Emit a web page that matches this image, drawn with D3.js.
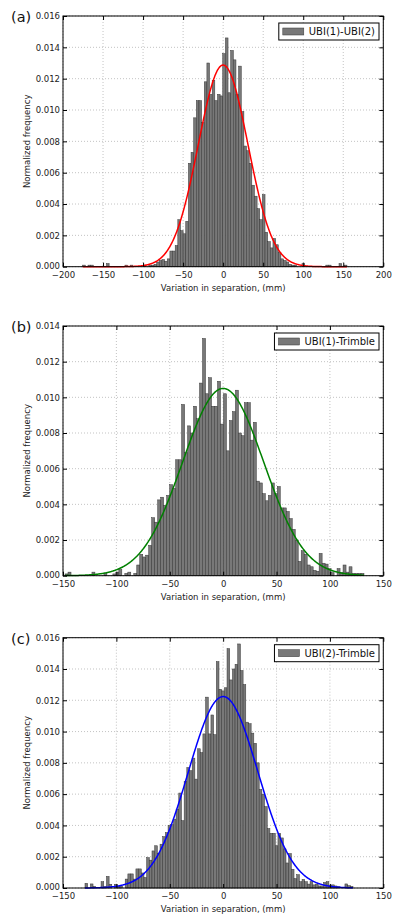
<!DOCTYPE html>
<html>
<head>
<meta charset="utf-8">
<script src="https://cdn.jsdelivr.net/npm/d3@7"></script>
<style>
  body { margin: 0; background: #fff; }
  svg { display: block; font-family: "DejaVu Sans", sans-serif; }
</style>
</head>
<body>
<div id="chart"></div>
<script>
// Histogram heights, in units of 1e-3 (normalized frequency).
// 100 bins per panel, left to right.
const freqA = [
  0.1, 0, 0.1, 0.1, 0, 0, 0, 0, 0, 0.2,
  0, 0, 0, 0, 0, 0, 0.1, 0, 0.1, 0,
  0, 0, 0, 0.1, 0, 0.1, 0.1, 0.15, 0.3, 0.4,
  0.45, 0.35, 0.5, 1.0, 1.0, 1.35, 3.0, 2.3, 2.1, 2.9,
  6.6, 7.3, 9.5, 10.6, 10.6, 9.2, 11.8, 13.0, 11.0, 11.9,
  10.6, 11.0, 10.9, 13.6, 14.6, 11.1, 13.8, 13.2, 11.0, 12.8,
  9.9, 7.7, 7.4, 6.6, 5.2, 4.5, 3.7, 3.0, 4.6, 2.2,
  1.6, 1.2, 1.8, 1.4, 0.9, 0.5, 0.4, 0.3, 0.15, 0.1,
  0.1, 0, 0, 0.2, 0, 0, 0, 0, 0, 0,
  0, 0, 0.1, 0.1, 0, 0, 0, 0.2, 0, 0.1
];
const freqB = [
  0.1, 0.2, 0, 0, 0, 0, 0, 0, 0, 0.2,
  0, 0, 0, 0.13, 0, 0, 0.1, 0.2, 0.35, 0,
  0.13, 0.2, 0, 0.13, 0.6, 1.2, 1.05, 1.15, 1.7, 3.25,
  3.0, 4.25, 4.4, 3.95, 4.5, 5.1, 4.9, 6.5, 6.5, 9.6,
  6.9, 8.4, 8.0, 9.5, 8.8, 10.8, 13.3, 10.2, 11.1, 9.5,
  9.5, 10.9, 8.5, 10.2, 7.0, 8.7, 9.2, 10.4, 8.0, 7.85,
  9.7, 9.7, 7.6, 8.6, 5.3, 5.2, 4.6, 4.2, 4.5, 5.2,
  4.6, 5.0, 3.8, 3.8, 3.6, 3.2, 2.6, 2.0, 0.8, 1.4,
  1.2, 0.6, 0.5, 0.3, 0.25, 1.25, 0.7, 0.65, 0.4, 0.17,
  0, 0.4, 0.17, 0.6, 0.2, 0.5, 0.13, 0.13, 0.13, 0.13
];
const freqC = [
  0.3, 0, 0.26, 0.1, 0, 0, 0.4, 0.1, 0.74, 0.24,
  0, 0.24, 0.1, 0.13, 0, 0.57, 0.9, 0.9, 0.57, 1.22,
  1.22, 0.96, 0.67, 1.94, 1.78, 2.37, 2.7, 2.2, 2.8, 3.28,
  3.54, 4.0, 4.05, 4.4, 5.04, 6.07, 4.3, 6.8, 7.7, 7.5,
  8.3, 6.96, 8.9, 8.65, 9.85, 12.2, 9.85, 11.06, 9.8, 14.47,
  12.7, 12.6, 12.8, 15.3, 13.3, 14.0, 14.3, 15.6, 13.9, 13.0,
  10.6, 10.5, 9.9, 9.25, 8.0, 6.3, 6.0, 5.2, 3.8, 3.5,
  3.5, 2.7, 3.5, 3.2, 2.5, 1.6, 2.2, 1.2, 0.6, 0.85,
  0.4, 0.55, 0.4, 0.25, 0.4, 0.2, 0.25, 0.13, 0.13, 0.35,
  0.4, 0.15, 0.2, 0.13, 0.1, 0, 0, 0.26, 0.15, 0.1
];

// first bin edge and bin width of each histogram (mm)
const binStart = [-175.4, -148.1, -129.4];
const binWidth = [3.3, 2.8, 2.51];

// normal fit drawn over each histogram (mm)
const fitMean = [0, 0, 0];
const fitSigma = [31, 38, 32.6];

const panelLabels = ["(a)", "(b)", "(c)"];
const seriesNames = ["UBI(1)-UBI(2)", "UBI(1)-Trimble", "UBI(2)-Trimble"];

const xTicksA = [-200, -150, -100, -50, 0, 50, 100, 150, 200];
const xTicksBC = [-150, -100, -50, 0, 50, 100, 150];
const yTicksA = [0, 0.002, 0.004, 0.006, 0.008, 0.010, 0.012, 0.014, 0.016];
const yTicksB = [0, 0.002, 0.004, 0.006, 0.008, 0.010, 0.012, 0.014];
const yTicksC = [0, 0.002, 0.004, 0.006, 0.008, 0.010, 0.012, 0.014, 0.016];

const xLabel = "Variation in separation, (mm)";
const yLabel = "Normalized frequency";

// layout
const width = 393, height = 915;
const plotLeft = 63, plotRight = 383.3;
const panels = [
  { freq: freqA, xTicks: xTicksA, yTicks: yTicksA, top: 16, bottom: 266.7, color: "#ff0000" },
  { freq: freqB, xTicks: xTicksBC, yTicks: yTicksB, top: 326, bottom: 575.7, color: "#008000" },
  { freq: freqC, xTicks: xTicksBC, yTicks: yTicksC, top: 637.7, bottom: 888, color: "#0000ff" }
];

let svg = d3.select("#chart").append("svg")
  .attr("width", width)
  .attr("height", height);

function normalPdf(x, mu, sigma) {
  return Math.exp(-0.5 * ((x - mu) / sigma) ** 2) / (sigma * Math.sqrt(2 * Math.PI));
}

function drawPanel(p, k) {
  let g = svg.append("g");
  let xt = p.xTicks, yt = p.yTicks;

  let x = d3.scaleLinear().domain([xt[0], xt[xt.length - 1]]).range([plotLeft, plotRight]);
  let y = d3.scaleLinear().domain([0, yt[yt.length - 1]]).range([p.bottom, p.top]);

  // dotted grid
  g.append("g").selectAll("line.gx").data(xt).join("line")
    .attr("x1", d => x(d)).attr("x2", d => x(d))
    .attr("y1", p.top).attr("y2", p.bottom)
    .attr("stroke", "#9a9a9a").attr("stroke-width", 0.6).attr("stroke-dasharray", "1,2");
  g.append("g").selectAll("line.gy").data(yt).join("line")
    .attr("x1", plotLeft).attr("x2", plotRight)
    .attr("y1", d => y(d)).attr("y2", d => y(d))
    .attr("stroke", "#9a9a9a").attr("stroke-width", 0.6).attr("stroke-dasharray", "1,2");

  // histogram bars
  let bins = p.freq.map(function (v, i) {
    return { x0: binStart[k] + i * binWidth[k], x1: binStart[k] + (i + 1) * binWidth[k], v: v / 1000 };
  });
  g.append("g").selectAll("rect").data(bins.filter(d => d.v > 0)).join("rect")
    .attr("x", d => x(d.x0))
    .attr("width", d => x(d.x1) - x(d.x0))
    .attr("y", d => y(d.v))
    .attr("height", d => y(0) - y(d.v))
    .attr("fill", "#787878")
    .attr("stroke", "#363636")
    .attr("stroke-width", 0.5);

  // fitted normal curve over the range of the bins
  let lo = binStart[k], hi = binStart[k] + p.freq.length * binWidth[k];
  let pts = d3.range(lo, hi + 0.25, 0.5).map(function (t) {
    return [t, normalPdf(t, fitMean[k], fitSigma[k])];
  });
  g.append("path")
    .datum(pts)
    .attr("fill", "none")
    .attr("stroke", p.color)
    .attr("stroke-width", 1.5)
    .attr("d", d3.line().x(d => x(d[0])).y(d => y(d[1])));

  // frame
  g.append("rect")
    .attr("x", plotLeft).attr("y", p.top)
    .attr("width", plotRight - plotLeft).attr("height", p.bottom - p.top)
    .attr("fill", "none").attr("stroke", "#000").attr("stroke-width", 1);

  // ticks point inward, labels only bottom and left
  let ax = g.append("g").attr("transform", `translate(0,${p.bottom})`)
    .call(d3.axisBottom(x).tickValues(xt).tickSizeInner(-4).tickSizeOuter(0)
      .tickPadding(5).tickFormat(d3.format("d")));
  let axTop = g.append("g").attr("transform", `translate(0,${p.top})`)
    .call(d3.axisTop(x).tickValues(xt).tickSizeInner(-4).tickSizeOuter(0).tickFormat(""));
  let ay = g.append("g").attr("transform", `translate(${plotLeft},0)`)
    .call(d3.axisLeft(y).tickValues(yt).tickSizeInner(-4).tickSizeOuter(0)
      .tickPadding(3).tickFormat(d3.format(".3f")));
  let ayRight = g.append("g").attr("transform", `translate(${plotRight},0)`)
    .call(d3.axisRight(y).tickValues(yt).tickSizeInner(-4).tickSizeOuter(0).tickFormat(""));

  [ax, axTop, ay, ayRight].forEach(function (a) {
    a.select(".domain").remove();
    a.selectAll("text").attr("font-family", "DejaVu Sans").attr("font-size", 8.5).attr("fill", "#222");
    a.selectAll("line").attr("stroke", "#000");
  });
  // the bottom y label sits a touch higher so it clears the x labels
  ay.selectAll(".tick").filter(d => d === 0).select("text").attr("dy", "0.2em");

  // axis labels
  g.append("text")
    .attr("x", (plotLeft + plotRight) / 2).attr("y", p.bottom + 24)
    .attr("text-anchor", "middle").attr("font-size", 8.5).attr("fill", "#222")
    .text(xLabel);
  g.append("text")
    .attr("transform", `translate(30,${(p.top + p.bottom) / 2}) rotate(-90)`)
    .attr("text-anchor", "middle").attr("font-size", 8.5).attr("fill", "#222")
    .text(yLabel);

  // panel letter
  g.append("text")
    .attr("x", 11).attr("y", p.top + 6)
    .attr("font-size", 14.5).attr("fill", "#111")
    .text(panelLabels[k]);

  // legend
  let leg = g.append("g");
  let boxTop = p.top + 7, boxH = 17;
  let label = leg.append("text")
    .attr("font-size", 10).attr("fill", "#111")
    .attr("y", boxTop + boxH / 2 + 3.6)
    .text(seriesNames[k]);
  let tw = label.node().getComputedTextLength();
  let boxW = 4 + 21 + 5 + tw + 4;
  let boxX = plotRight - 4.3 - boxW;
  leg.insert("rect", "text")
    .attr("x", boxX).attr("y", boxTop).attr("width", boxW).attr("height", boxH)
    .attr("fill", "#fff").attr("stroke", "#000").attr("stroke-width", 1);
  leg.insert("rect", "text")
    .attr("x", boxX + 4).attr("y", boxTop + boxH / 2 - 3.5).attr("width", 21).attr("height", 7)
    .attr("fill", "#787878").attr("stroke", "#363636").attr("stroke-width", 0.5);
  label.attr("x", boxX + 30);
}

panels.forEach(drawPanel);
</script>
</body>
</html>
